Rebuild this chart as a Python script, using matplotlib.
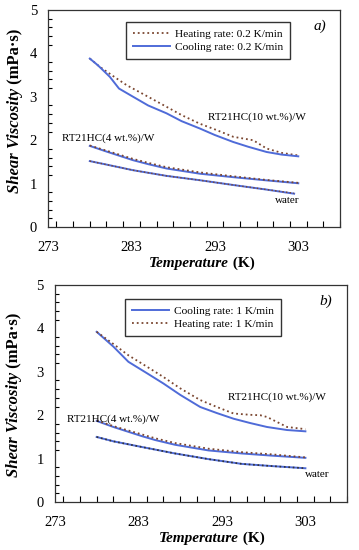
import matplotlib
matplotlib.use("Agg")
import matplotlib.pyplot as plt
from matplotlib.ticker import MultipleLocator

plt.rcParams['font.family'] = ['Liberation Serif', 'DejaVu Serif']

# panel a) 0.2 K/min
a_T10_cool = [278, 279, 280.4, 281.5, 283.2, 285, 287.2, 289, 291.2, 293, 295.2, 297, 299.2, 301, 303]
a_v10_cool = [3.88, 3.72, 3.46, 3.19, 3.00, 2.80, 2.62, 2.44, 2.27, 2.12, 1.96, 1.85, 1.73, 1.67, 1.63]
a_T10_heat = [278, 279.2, 281, 282.4, 285, 287.2, 289, 291.2, 293, 295.2, 297.6, 299.2, 301, 303]
a_v10_heat = [3.88, 3.69, 3.45, 3.27, 3.00, 2.77, 2.58, 2.38, 2.25, 2.08, 2.00, 1.81, 1.71, 1.65]
a_T4 = [278, 280, 283.2, 285, 287.2, 291.2, 295.2, 299, 303]
a_v4_cool = [1.87, 1.74, 1.54, 1.45, 1.35, 1.23, 1.15, 1.08, 1.01]
a_v4_heat = [1.88, 1.76, 1.57, 1.48, 1.38, 1.26, 1.17, 1.09, 1.02]
a_Tw = [278, 280, 283.2, 287.2, 291.2, 295.2, 299, 302.5]
a_vw_cool = [1.52, 1.44, 1.31, 1.18, 1.08, 0.97, 0.87, 0.77]
a_vw_heat = [1.52, 1.44, 1.31, 1.18, 1.08, 0.97, 0.87, 0.78]

# panel b) 1 K/min
b_T10_cool = [278, 280, 281.8, 284, 286, 288, 290.4, 292.4, 294.4, 296.4, 298.4, 300.8, 303]
b_v10_cool = [3.92, 3.58, 3.23, 2.97, 2.73, 2.47, 2.19, 2.05, 1.92, 1.82, 1.73, 1.66, 1.63]
b_T10_heat = [278, 280, 281.8, 284, 286, 288, 290.4, 292.4, 294.4, 296.4, 297.6, 298.4, 300.8, 303]
b_v10_heat = [3.92, 3.64, 3.38, 3.12, 2.88, 2.62, 2.35, 2.19, 2.04, 2.01, 2.00, 1.96, 1.73, 1.68]
b_T4 = [278, 280, 283.4, 285, 287.4, 291.4, 295.4, 299, 303]
b_v4_cool = [1.87, 1.73, 1.52, 1.43, 1.32, 1.19, 1.12, 1.07, 1.02]
b_v4_heat = [1.88, 1.75, 1.56, 1.47, 1.36, 1.23, 1.15, 1.10, 1.03]
b_Tw = [278, 280, 283.4, 287.4, 291.4, 295.4, 299, 303]
b_vw = [1.50, 1.40, 1.27, 1.12, 0.99, 0.88, 0.83, 0.78]

blue = '#4f6bd8'
brown = '#7a4630'

fig = plt.figure(figsize=(3.59, 5.5), dpi=100)
ax1 = fig.add_axes([0.134, 0.587, 0.813, 0.395])
ax2 = fig.add_axes([0.153, 0.087, 0.814, 0.395])


def style(ax, xl_x, yl_x, yl_y):
    ax.set_xlim(273, 308)
    ax.set_ylim(0, 5)
    ax.set_xticks([273, 283, 293, 303])
    ax.xaxis.set_minor_locator(MultipleLocator(2))
    ax.yaxis.set_minor_locator(MultipleLocator(0.2))
    ax.tick_params(axis='x', which='major', length=0, pad=10, labelsize=10.5)
    ax.tick_params(axis='x', which='minor', direction='in', length=4, width=0.8)
    ax.tick_params(axis='y', which='major', direction='in', length=0, pad=8, labelsize=10.5)
    ax.tick_params(axis='y', which='minor', direction='in', length=3, width=0.8)
    for s in ax.spines.values():
        s.set_color('#333333')
        s.set_linewidth(0.9)
    # axis labels: italic bold name + bold unit
    t = ax.text(xl_x, -0.166, 'Temperature', transform=ax.transAxes, fontsize=11,
                fontweight='bold', fontstyle='italic', ha='right', va='center')
    ax.annotate(' (K)', xy=(1, 0.5), xycoords=t, fontsize=11, fontweight='bold',
                va='center', ha='left')
    t2 = ax.text(yl_x, yl_y, 'Shear Viscosity', transform=ax.transAxes, fontsize=12,
                 fontweight='bold', fontstyle='italic', rotation=90, ha='center', va='bottom')
    ax.annotate(' (mPa·s)', xy=(0.5, 1), xycoords=t2, fontsize=12, fontweight='bold',
                rotation=90, ha='center', va='bottom')


leg_kw = dict(loc='upper left', fontsize=8.2, frameon=True, fancybox=False,
              edgecolor='black', handlelength=3.3, borderpad=0.6,
              labelspacing=0.3, handletextpad=0.4, borderaxespad=0)

# panel a
style(ax1, 0.62, -0.113, 0.157)
ax1.plot(a_T10_heat, a_v10_heat, ':', color=brown, lw=1.3, label='Heating rate: 0.2 K/min')
ax1.plot(a_T10_cool, a_v10_cool, '-', color=blue, lw=1.4, label='Cooling rate: 0.2 K/min')
ax1.plot(a_T4, a_v4_cool, '-', color=blue, lw=1.4)
ax1.plot(a_T4, a_v4_heat, ':', color=brown, lw=1.3)
ax1.plot(a_Tw, a_vw_cool, '-', color=blue, lw=1.4)
ax1.plot(a_Tw, a_vw_heat, ':', color=brown, lw=1.0)
ax1.legend(bbox_to_anchor=(0.267, 0.945), **leg_kw)
ax1.text(292.2, 2.52, 'RT21HC(10 wt.%)/W', fontsize=8, va='center')
ax1.text(274.7, 2.05, 'RT21HC(4 wt.%)/W', fontsize=8, va='center')
ax1.text(300.2, 0.62, 'water', fontsize=8, va='center')
ax1.text(305.6, 4.62, 'a)', fontsize=11, fontstyle='italic', ha='center', va='center')

# panel b
style(ax2, 0.63, -0.14, 0.115)
ax2.plot(b_T10_cool, b_v10_cool, '-', color=blue, lw=1.4, label='Cooling rate: 1 K/min')
ax2.plot(b_T10_heat, b_v10_heat, ':', color=brown, lw=1.3, label='Heating rate: 1 K/min')
ax2.plot(b_T4, b_v4_cool, '-', color=blue, lw=1.4)
ax2.plot(b_T4, b_v4_heat, ':', color=brown, lw=1.3)
ax2.plot(b_Tw, b_vw, '-', color=blue, lw=1.4)
ax2.plot(b_Tw, b_vw, ':', color='#333333', lw=1.2)
ax2.legend(bbox_to_anchor=(0.24, 0.935), **leg_kw)
ax2.text(293.7, 2.42, 'RT21HC(10 wt.%)/W', fontsize=8, va='center')
ax2.text(274.4, 1.92, 'RT21HC(4 wt.%)/W', fontsize=8, va='center')
ax2.text(303.0, 0.63, 'water', fontsize=8, va='center')
ax2.text(305.4, 4.62, 'b)', fontsize=11, fontstyle='italic', ha='center', va='center')

fig.savefig('out.png', dpi=100)
